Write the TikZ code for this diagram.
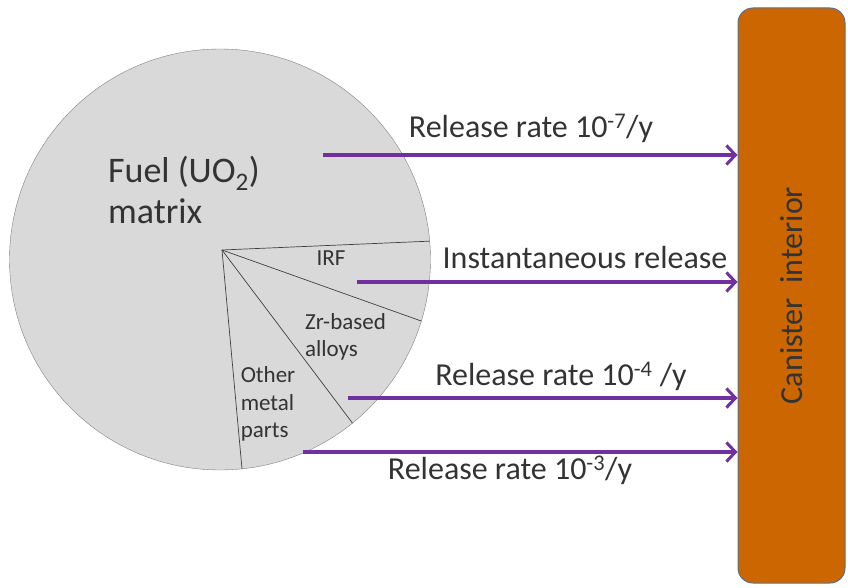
\documentclass[tikz,border=0pt]{standalone}
\usepackage{fontspec}
\setmainfont{Carlito}
\usetikzlibrary{arrows.meta}
\definecolor{flujo}{HTML}{7030A0}
\definecolor{naranja}{HTML}{CC6600}
\definecolor{borde}{HTML}{5A6F8A}
\definecolor{gris}{HTML}{D9D9D9}
\begin{document}
\begin{tikzpicture}[x=1pt, y=-1pt]
\useasboundingbox (0,0) rectangle (848,588);

% Nodos
\node (fuel) [circle, draw = black!50, fill = gris, outer sep = 0pt,
	minimum size = 421pt] at (220,259.5) {};
\node (can) [draw = borde, fill = naranja, rounded corners = 15pt,
	line width = 1pt, minimum width = 107pt, minimum height = 575pt]
	at (791.5,295.5) {};
\coordinate (hub) at (222,250);

% Sectores
\draw[black!75, line width = .7pt] (hub) -- (fuel.5.85);
\draw[black!75, line width = .7pt] (hub) -- (fuel.-17.96);
\draw[black!75, line width = .7pt] (hub) -- (fuel.-51.6);
\draw[black!75, line width = .7pt] (hub) -- (fuel.-84.4);

% Textos
\begin{scope}[
		every node/.style = {text = black!80, align = left,
		inner sep = 0pt, font = \fontsize{23}{27.5}\selectfont}]
	\node (mat) [font = \fontsize{36}{41}\selectfont] at (184,190)
		{Fuel (UO\textsubscript{2})\\matrix};
	\node (irf) at (331,258) {IRF};
	\node (zr) at (345.5,337) {Zr-based\\alloys};
	\node (oth) at (268,404) {Other\\metal\\parts};
	\node (lab) [rotate = 90, font = \fontsize{32}{36}\selectfont]
		at (can.center) {Canister\ \ interior};
\end{scope}

% Flechas
\begin{scope}[
		every node/.style = {text = black!80, inner sep = 0pt,
		font = \fontsize{32}{36}\selectfont},
		flow/.style = {draw = flujo, line width = 3.6pt,
		-{Straight Barb[length = 9pt, width = 19pt, line width = 3pt]}}]
	\coordinate (s1) at (323,155);
	\coordinate (s2) at (357,282);
	\coordinate (s3) at (348,398);
	\coordinate (s4) at (303,452);
	\draw[flow] (s1) -- (s1 -| can.west);
	\draw[flow] (s2) -- (s2 -| can.west);
	\draw[flow] (s3) -- (s3 -| can.west);
	\draw[flow] (s4) -- (s4 -| can.west);
	\node (r1) at (531,128) {Release rate 10\textsuperscript{-7}/y};
	\node (r2) at (585,258) {Instantaneous release};
	\node (r3) at (561,376) {Release rate 10\textsuperscript{-4} /y};
	\node (r4) at (510,470) {Release rate 10\textsuperscript{-3}/y};
\end{scope}
\end{tikzpicture}
\end{document}
